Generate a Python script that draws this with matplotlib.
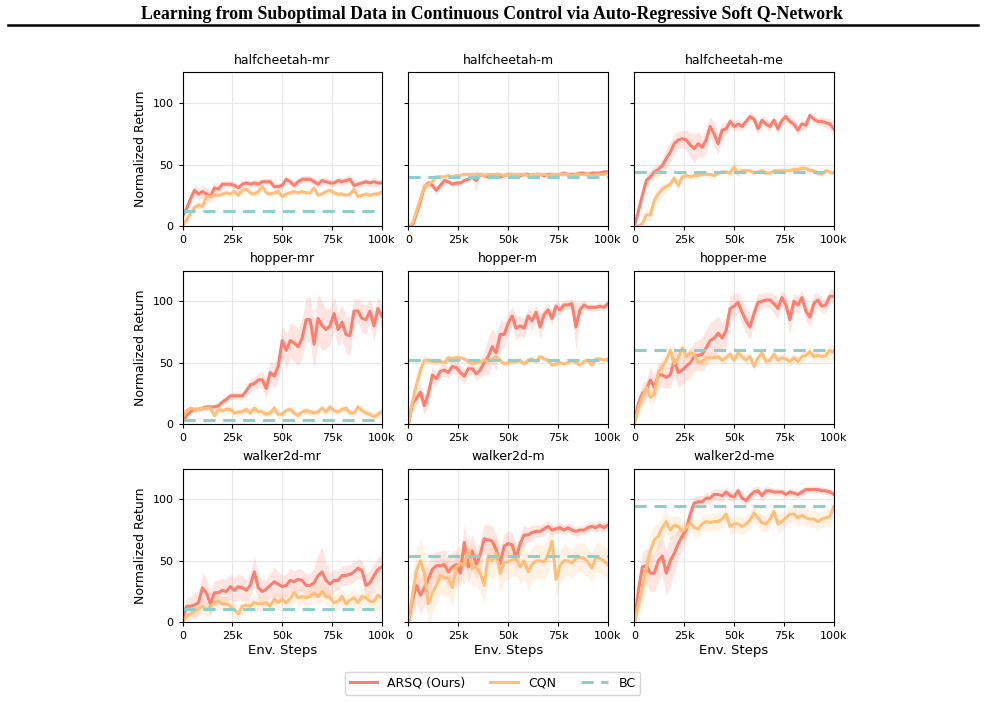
import numpy as np
import matplotlib
matplotlib.use("Agg")
import matplotlib.pyplot as plt
from matplotlib.lines import Line2D

# env steps, one eval every 2k
steps = np.arange(0, 100001, 2000)

tasks = ["halfcheetah-mr", "halfcheetah-m", "halfcheetah-me",
         "hopper-mr", "hopper-m", "hopper-me",
         "walker2d-mr", "walker2d-m", "walker2d-me"]

bc_levels = [12, 40, 44, 3, 52, 60, 11, 54, 95]

# ---- halfcheetah ----
hc_mr_arsq = [8, 14, 22, 29, 26, 28, 26, 24, 31, 30, 34, 34, 34, 33, 31, 34, 35, 34, 35, 34,
              36, 36, 36, 32, 32, 33, 38, 36, 33, 36, 38, 38, 38, 36, 34, 37, 36, 35, 35, 37,
              36, 37, 38, 33, 34, 35, 36, 35, 36, 35, 35]
hc_mr_arsq_sd = [2, 3, 4, 4, 5, 5, 5, 5, 5, 4, 3, 3, 3, 3, 3, 3, 3, 3, 3, 3,
                 3, 3, 3, 3, 3, 3, 3, 3, 3, 3, 3, 3, 3, 3, 3, 3, 3, 3, 3, 3,
                 3, 3, 4, 3, 3, 3, 3, 3, 4, 3, 3]
hc_mr_cqn = [0, 5, 10, 15, 17, 16, 24, 24, 25, 25, 26, 27, 26, 28, 25, 29, 30, 27, 26, 28,
             32, 27, 26, 27, 28, 24, 26, 27, 28, 27, 28, 27, 27, 31, 25, 26, 28, 29, 27, 26,
             26, 25, 26, 30, 24, 25, 26, 25, 26, 26, 28]
hc_mr_cqn_sd = [1, 2, 3, 3, 3, 3, 3, 3, 3, 2, 2, 2, 2, 2, 2, 2, 2, 2, 2, 2,
                2, 2, 2, 2, 2, 2, 2, 2, 2, 2, 2, 2, 2, 2, 2, 2, 2, 2, 2, 2,
                2, 2, 2, 2, 2, 2, 2, 2, 2, 2, 2]

hc_m_arsq = [0, 0, 10, 20, 32, 35, 33, 29, 33, 37, 36, 34, 35, 35, 37, 38, 40, 37, 42, 41,
             40, 41, 42, 40, 41, 42, 42, 41, 41, 42, 42, 41, 42, 42, 41, 42, 42, 41, 42, 43,
             42, 42, 42, 43, 43, 42, 43, 43, 43, 44, 44]
hc_m_arsq_sd = [1, 1, 2, 3, 3, 3, 3, 4, 3, 3, 2, 2, 2, 2, 2, 2, 2, 8, 2, 2,
                3, 2, 2, 2, 2, 2, 2, 2, 2, 2, 2, 2, 2, 2, 2, 2, 2, 2, 2, 2,
                2, 2, 2, 2, 2, 2, 2, 2, 2, 2, 2]
hc_m_cqn = [0, 2, 12, 22, 32, 34, 36, 40, 40, 40, 41, 40, 41, 41, 42, 42, 42, 42, 42, 41,
            42, 42, 42, 42, 41, 42, 42, 42, 42, 42, 41, 42, 42, 42, 42, 41, 42, 42, 42, 42,
            42, 41, 42, 42, 42, 42, 41, 42, 42, 42, 43]
hc_m_cqn_sd = [1, 1, 2, 2, 2, 2, 2, 1, 1, 1, 1, 1, 1, 1, 1, 1, 1, 1, 1, 1,
               1, 1, 1, 1, 1, 1, 1, 1, 1, 1, 1, 1, 1, 1, 1, 1, 1, 1, 1, 1,
               1, 1, 1, 1, 1, 1, 1, 1, 1, 1, 1]

hc_me_arsq = [0, 12, 25, 37, 40, 44, 46, 49, 55, 60, 67, 70, 71, 70, 66, 63, 67, 64, 70, 81,
              75, 67, 78, 79, 85, 81, 83, 81, 85, 89, 87, 79, 86, 83, 81, 86, 79, 86, 89, 85,
              83, 78, 83, 82, 90, 87, 85, 85, 84, 83, 79]
hc_me_arsq_sd = [1, 3, 5, 5, 5, 5, 5, 6, 8, 8, 8, 7, 7, 8, 10, 12, 10, 9, 10, 8,
                 10, 9, 6, 5, 4, 4, 4, 4, 4, 4, 4, 5, 4, 4, 4, 4, 4, 4, 4, 4,
                 4, 4, 4, 4, 3, 3, 3, 4, 4, 5, 7]
hc_me_cqn = [0, 0, 2, 9, 9, 21, 26, 30, 32, 34, 39, 33, 40, 41, 40, 41, 41, 42, 42, 42,
             41, 43, 44, 44, 43, 48, 43, 45, 45, 45, 43, 44, 45, 43, 43, 45, 45, 45, 45, 45,
             46, 46, 47, 47, 45, 45, 43, 42, 45, 44, 43]
hc_me_cqn_sd = [1, 1, 2, 4, 6, 6, 6, 5, 4, 4, 3, 3, 3, 2, 2, 2, 2, 2, 2, 2,
                2, 2, 2, 2, 3, 5, 3, 3, 2, 2, 2, 2, 2, 2, 2, 2, 2, 3, 3, 3,
                3, 3, 3, 3, 3, 2, 2, 2, 2, 2, 2]

# ---- hopper ----
hop_mr_arsq = [2, 7, 10, 12, 12, 13, 14, 14, 14, 15, 18, 20, 23, 23, 23, 23, 27, 32, 33, 36,
               36, 29, 42, 39, 47, 68, 60, 68, 66, 63, 70, 85, 85, 65, 86, 80, 77, 80, 90, 77,
               83, 73, 72, 92, 92, 86, 85, 92, 80, 94, 88]
hop_mr_arsq_sd = [1, 2, 2, 2, 2, 2, 2, 2, 2, 2, 3, 3, 3, 3, 3, 3, 4, 5, 5, 6,
                  7, 8, 9, 10, 10, 12, 14, 14, 15, 15, 16, 18, 18, 20, 20, 20, 16, 15, 14, 14,
                  14, 15, 16, 10, 10, 12, 12, 10, 12, 10, 8]
hop_mr_cqn = [5, 11, 13, 12, 12, 13, 13, 13, 7, 12, 11, 12, 12, 9, 10, 10, 12, 9, 13, 10,
              10, 8, 9, 13, 8, 8, 11, 12, 9, 7, 10, 11, 10, 9, 10, 13, 10, 14, 11, 10,
              12, 13, 9, 9, 14, 11, 9, 8, 6, 8, 10]
hop_mr_cqn_sd = [1, 2, 2, 2, 2, 2, 2, 3, 3, 3, 3, 3, 3, 3, 3, 3, 3, 3, 3, 3,
                 3, 3, 3, 3, 3, 3, 3, 3, 3, 3, 3, 3, 3, 3, 3, 3, 3, 3, 3, 3,
                 3, 3, 3, 3, 3, 3, 3, 3, 3, 3, 3]

hop_m_arsq = [0, 17, 21, 26, 15, 25, 40, 37, 43, 44, 42, 47, 46, 42, 39, 45, 45, 41, 44, 50,
              55, 63, 58, 73, 73, 82, 88, 78, 80, 78, 88, 84, 91, 79, 89, 93, 86, 96, 93, 97,
              97, 98, 79, 93, 97, 95, 95, 95, 96, 95, 98]
hop_m_arsq_sd = [2, 6, 6, 7, 8, 8, 7, 6, 5, 5, 5, 5, 6, 6, 6, 5, 5, 5, 6, 10,
                 15, 15, 14, 12, 10, 8, 8, 10, 8, 8, 6, 8, 6, 10, 6, 6, 6, 5, 5, 4,
                 4, 4, 20, 6, 4, 3, 3, 3, 3, 3, 3]
hop_m_cqn = [0, 18, 32, 44, 52, 52, 51, 51, 51, 50, 54, 53, 54, 54, 53, 51, 49, 50, 51, 52,
             51, 53, 55, 52, 49, 50, 51, 51, 52, 49, 52, 53, 51, 55, 53, 52, 48, 49, 50, 49,
             50, 52, 50, 48, 51, 52, 48, 53, 53, 52, 53]
hop_m_cqn_sd = [2, 6, 6, 5, 4, 3, 3, 3, 3, 3, 3, 3, 3, 2, 2, 2, 2, 2, 2, 2,
                2, 2, 2, 2, 2, 2, 2, 2, 2, 2, 2, 2, 2, 2, 2, 2, 2, 2, 2, 2,
                2, 2, 2, 2, 2, 2, 2, 2, 2, 2, 2]

hop_me_arsq = [3, 17, 25, 28, 36, 30, 40, 40, 38, 40, 52, 42, 44, 47, 50, 55, 56, 57, 62, 68,
               70, 74, 70, 76, 94, 96, 99, 91, 84, 79, 90, 99, 100, 101, 101, 98, 94, 103, 97, 85,
               100, 97, 103, 92, 87, 98, 101, 96, 97, 104, 104]
hop_me_arsq_sd = [2, 6, 8, 8, 10, 10, 10, 9, 9, 10, 12, 12, 12, 12, 12, 12, 12, 14, 15, 15,
                  15, 14, 12, 12, 10, 10, 8, 10, 10, 10, 8, 8, 6, 6, 6, 8, 8, 6, 8, 12,
                  6, 8, 6, 8, 8, 8, 6, 6, 6, 6, 6]
hop_me_cqn = [0, 13, 22, 30, 22, 24, 42, 47, 52, 60, 49, 54, 62, 55, 58, 57, 50, 51, 54, 54,
              54, 55, 52, 54, 57, 52, 58, 55, 52, 55, 47, 54, 58, 51, 52, 57, 52, 54, 53, 51,
              54, 51, 55, 56, 59, 55, 56, 55, 56, 60, 58]
hop_me_cqn_sd = [2, 5, 6, 6, 7, 7, 7, 6, 5, 5, 5, 5, 5, 4, 4, 4, 4, 4, 4, 4,
                 4, 4, 4, 4, 4, 4, 4, 4, 4, 4, 4, 4, 4, 4, 4, 4, 4, 4, 4, 4,
                 4, 4, 4, 4, 4, 4, 4, 4, 5, 7, 6]

# ---- walker2d ----
wk_mr_arsq = [2, 13, 13, 14, 16, 28, 24, 15, 24, 24, 26, 25, 29, 26, 29, 28, 26, 30, 41, 28,
              25, 27, 30, 33, 31, 29, 30, 34, 33, 35, 34, 30, 30, 32, 38, 41, 34, 31, 34, 34,
              38, 38, 39, 41, 44, 42, 30, 32, 38, 43, 45]
wk_mr_arsq_sd = [2, 6, 8, 10, 10, 12, 12, 10, 10, 10, 10, 10, 10, 10, 10, 10, 9, 10, 12, 10,
                 9, 9, 10, 12, 10, 9, 9, 10, 9, 9, 9, 9, 10, 12, 18, 20, 14, 10, 9, 8,
                 8, 8, 8, 8, 8, 8, 10, 10, 10, 10, 10]
wk_mr_cqn = [0, 5, 7, 9, 11, 13, 10, 13, 16, 17, 15, 15, 13, 10, 7, 13, 14, 13, 16, 15,
             15, 16, 13, 19, 16, 19, 16, 19, 24, 20, 21, 20, 21, 24, 21, 25, 21, 20, 16, 17,
             21, 15, 18, 20, 16, 21, 20, 17, 17, 22, 20]
wk_mr_cqn_sd = [2, 4, 5, 5, 6, 6, 6, 6, 6, 6, 6, 6, 6, 6, 6, 6, 6, 6, 6, 6,
                6, 6, 6, 6, 6, 6, 6, 6, 7, 7, 7, 7, 7, 7, 8, 8, 7, 7, 7, 7,
                7, 7, 7, 7, 7, 7, 8, 8, 10, 12, 12]

wk_m_arsq = [0, 18, 30, 22, 28, 35, 43, 46, 46, 47, 41, 45, 47, 40, 65, 45, 58, 47, 55, 68,
             67, 66, 59, 48, 62, 64, 63, 52, 64, 71, 71, 73, 74, 74, 76, 78, 75, 76, 77, 75,
             77, 75, 74, 75, 75, 77, 78, 77, 79, 77, 79]
wk_m_arsq_sd = [3, 12, 14, 15, 14, 14, 12, 12, 12, 12, 12, 12, 12, 12, 15, 14, 14, 12, 12, 12,
                12, 12, 12, 12, 10, 10, 10, 10, 8, 8, 6, 6, 5, 5, 5, 5, 4, 4, 4, 4,
                4, 4, 4, 4, 4, 4, 4, 4, 4, 4, 4]
wk_m_cqn = [0, 22, 42, 50, 40, 15, 24, 30, 38, 36, 36, 28, 45, 48, 46, 59, 44, 45, 40, 30,
            54, 50, 56, 40, 48, 49, 51, 52, 45, 50, 41, 47, 50, 50, 49, 55, 66, 35, 46, 50,
            50, 48, 52, 53, 52, 49, 44, 53, 52, 50, 47]
wk_m_cqn_sd = [3, 15, 18, 18, 18, 18, 16, 16, 15, 15, 15, 15, 15, 15, 15, 15, 15, 15, 15, 15,
               15, 15, 15, 15, 14, 14, 14, 14, 14, 14, 14, 14, 14, 14, 14, 14, 14, 14, 14, 14,
               12, 12, 12, 12, 12, 12, 12, 12, 12, 12, 12]

wk_me_arsq = [0, 26, 45, 46, 40, 40, 50, 54, 40, 50, 56, 64, 70, 75, 88, 97, 98, 98, 101, 101,
              104, 104, 103, 106, 103, 102, 107, 101, 99, 103, 106, 107, 103, 107, 107, 106, 106, 106, 104, 106,
              105, 104, 106, 108, 108, 108, 108, 107, 107, 106, 104]
wk_me_arsq_sd = [3, 10, 12, 14, 15, 15, 16, 16, 18, 20, 15, 12, 10, 8, 6, 5, 5, 5, 5, 5,
                 5, 5, 5, 4, 4, 4, 4, 4, 4, 4, 4, 4, 4, 4, 3, 3, 3, 3, 3, 3,
                 3, 3, 3, 3, 3, 3, 3, 3, 3, 3, 3]
wk_me_cqn = [0, 14, 28, 44, 58, 67, 70, 77, 82, 75, 79, 78, 74, 77, 81, 77, 76, 80, 82, 81,
             82, 82, 84, 88, 78, 80, 80, 78, 80, 83, 89, 85, 81, 80, 84, 90, 80, 82, 85, 88,
             88, 85, 87, 85, 84, 84, 82, 84, 85, 86, 94]
wk_me_cqn_sd = [3, 10, 14, 15, 14, 12, 10, 10, 9, 9, 8, 8, 8, 8, 7, 7, 7, 7, 7, 7,
                7, 7, 7, 7, 7, 7, 7, 7, 7, 7, 7, 7, 7, 7, 7, 7, 7, 7, 7, 7,
                7, 7, 7, 7, 7, 7, 7, 7, 7, 8, 8]

arsq_all = [hc_mr_arsq, hc_m_arsq, hc_me_arsq, hop_mr_arsq, hop_m_arsq, hop_me_arsq,
            wk_mr_arsq, wk_m_arsq, wk_me_arsq]
arsq_sd_all = [hc_mr_arsq_sd, hc_m_arsq_sd, hc_me_arsq_sd, hop_mr_arsq_sd, hop_m_arsq_sd,
               hop_me_arsq_sd, wk_mr_arsq_sd, wk_m_arsq_sd, wk_me_arsq_sd]
cqn_all = [hc_mr_cqn, hc_m_cqn, hc_me_cqn, hop_mr_cqn, hop_m_cqn, hop_me_cqn,
           wk_mr_cqn, wk_m_cqn, wk_me_cqn]
cqn_sd_all = [hc_mr_cqn_sd, hc_m_cqn_sd, hc_me_cqn_sd, hop_mr_cqn_sd, hop_m_cqn_sd,
              hop_me_cqn_sd, wk_mr_cqn_sd, wk_m_cqn_sd, wk_me_cqn_sd]

c_arsq = "#FA7F6F"
c_cqn = "#FFBE7A"
c_bc = "#8ECFC9"

fig, axes = plt.subplots(3, 3, figsize=(9.85, 7.02), dpi=100, sharey=True)
fig.subplots_adjust(left=0.1853, right=0.8465, top=0.8969, bottom=0.1136,
                    wspace=0.133, hspace=0.29)

for i, ax in enumerate(axes.flat):
    m1 = np.array(arsq_all[i], dtype=float)
    s1 = np.array(arsq_sd_all[i], dtype=float)
    m2 = np.array(cqn_all[i], dtype=float)
    s2 = np.array(cqn_sd_all[i], dtype=float)
    ax.fill_between(steps, m1 - s1, m1 + s1, color=c_arsq, alpha=0.2, lw=0)
    ax.fill_between(steps, m2 - s2, m2 + s2, color=c_cqn, alpha=0.2, lw=0)
    ax.plot(steps, m1, color=c_arsq, lw=2.2)
    ax.plot(steps, m2, color=c_cqn, lw=2.2)
    ax.axhline(bc_levels[i], color=c_bc, lw=2.2, ls=(0, (4, 2.5)))
    ax.set_xlim(0, 100000)
    ax.set_ylim(0, 125)
    ax.set_xticks([0, 25000, 50000, 75000, 100000])
    ax.set_xticklabels(["0", "25k", "50k", "75k", "100k"])
    ax.set_yticks([0, 50, 100])
    ax.tick_params(labelsize=8, length=3)
    ax.grid(True, color="#e8e8e8", lw=0.8)
    ax.set_axisbelow(True)
    ax.set_title(tasks[i], fontsize=9, pad=6)
    if i % 3 == 0:
        ax.set_ylabel("Normalized Return", fontsize=9)
    if i >= 6:
        ax.set_xlabel("Env. Steps", fontsize=9.5, labelpad=2)

fig.text(0.4995, 0.98, "Learning from Suboptimal Data in Continuous Control via Auto-Regressive Soft Q-Network",
         ha="center", va="center", fontsize=12.8, fontweight="bold", family="Liberation Serif")
fig.add_artist(Line2D([0.008, 0.993], [0.964, 0.964], color="black", lw=1.8))

handles = [Line2D([], [], color=c_arsq, lw=2.2),
           Line2D([], [], color=c_cqn, lw=2.2),
           Line2D([], [], color=c_bc, lw=2.2, ls=(0, (4, 2.5)))]
fig.legend(handles, ["ARSQ (Ours)", "CQN", "BC"], loc="center", bbox_to_anchor=(0.5, 0.027),
           ncol=3, fontsize=9, handlelength=2.2, columnspacing=2.0, frameon=True)

fig.savefig("out.png", dpi=100)
